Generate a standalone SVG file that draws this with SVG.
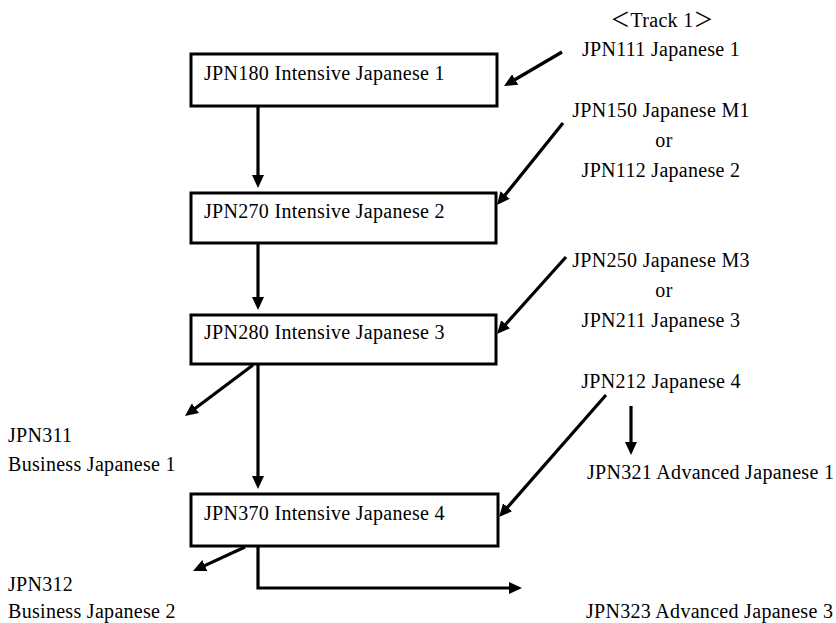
<svg xmlns="http://www.w3.org/2000/svg" width="836" height="623" viewBox="0 0 836 623">
<defs>
<marker id="ah" markerUnits="userSpaceOnUse" markerWidth="13" markerHeight="12" refX="5" refY="6" orient="auto">
<path d="M0,0 L13,6 L0,12 z" fill="#000"/>
</marker>
<style>
text{font-family:"Liberation Serif","Times New Roman","Noto Sans CJK JP",serif;font-size:20px;letter-spacing:0.3px;fill:#000}
.box{fill:#fff;stroke:#000;stroke-width:3}
.c{fill:none;stroke:#000;stroke-width:3.2;marker-end:url(#ah)}
.m{text-anchor:middle}
</style>
</defs>
<rect width="836" height="623" fill="#fff"/>
<g id="connectors">
<path class="c" d="M258,106 L258,180"/>
<path class="c" d="M258,243 L258,302"/>
<path class="c" d="M258,364 L258,481"/>
<path class="c" d="M258,546 L258,588 L514,588"/>
<path class="c" d="M562,52 L510.9,82"/>
<path class="c" d="M563,123 L502,198.8"/>
<path class="c" d="M566,257 L502.3,328"/>
<path class="c" d="M606,395 L504.3,511"/>
<path class="c" d="M631,406 L631,447"/>
<path class="c" d="M253,365 L191.4,411.2"/>
<path class="c" d="M245,547 L200.3,567.6"/>
</g>
<g id="n180"><rect class="box" x="191" y="54" width="306" height="52"/><text x="204" y="80">JPN180 Intensive Japanese 1</text></g>
<g id="n270"><rect class="box" x="191" y="193" width="305" height="50"/><text x="204" y="218">JPN270 Intensive Japanese 2</text></g>
<g id="n280"><rect class="box" x="191" y="315" width="305" height="49"/><text x="204" y="339">JPN280 Intensive Japanese 3</text></g>
<g id="n370"><rect class="box" x="191" y="494" width="307" height="52"/><text x="204" y="520">JPN370 Intensive Japanese 4</text></g>
<g id="track1"><text class="m" x="662" y="27">＜Track 1＞</text><text class="m" x="661" y="56">JPN111 Japanese 1</text></g>
<g id="j150"><text class="m" x="661" y="117">JPN150 Japanese M1</text><text class="m" x="664" y="147">or</text><text class="m" x="661" y="177">JPN112 Japanese 2</text></g>
<g id="j250"><text class="m" x="661" y="267">JPN250 Japanese M3</text><text class="m" x="664" y="297">or</text><text class="m" x="661" y="327">JPN211 Japanese 3</text></g>
<g id="j212"><text class="m" x="661" y="388">JPN212 Japanese 4</text></g>
<g id="j321"><text x="587" y="479">JPN321 Advanced Japanese 1</text></g>
<g id="j323"><text x="586" y="618">JPN323 Advanced Japanese 3</text></g>
<g id="j311"><text x="8" y="442">JPN311</text><text x="8" y="471">Business Japanese 1</text></g>
<g id="j312"><text x="8" y="591">JPN312</text><text x="8" y="618">Business Japanese 2</text></g>
</svg>
